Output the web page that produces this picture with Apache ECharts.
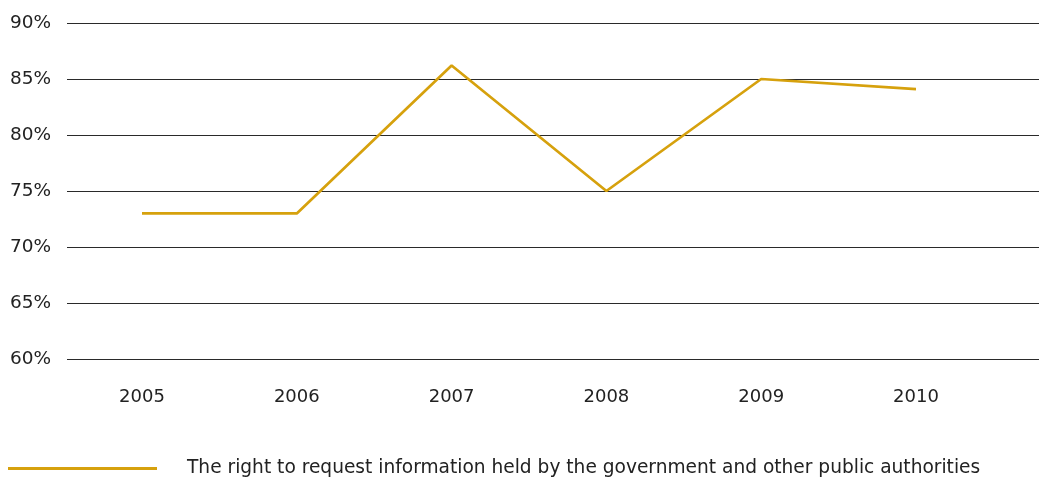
<!DOCTYPE html>
<html>
<head>
<meta charset="utf-8">
<script src="https://cdn.jsdelivr.net/npm/echarts@6/dist/echarts.min.js"></script>
<style>html,body{margin:0;padding:0;background:#fff}#c{width:1039px;height:483px}</style>
</head>
<body>
<div id="c"></div>
<script>
const categories = ['2005', '2006', '2007', '2008', '2009', '2010'];
const seriesName = 'The right to request information held by the government and other public authorities';
const values = [73.0, 73.0, 86.2, 75.0, 85.0, 84.1];
const yMin = 60, yMax = 90, yStep = 5;

const chart = echarts.init(document.getElementById('c'));
const font = "'DejaVu Sans', Verdana, sans-serif";
chart.setOption({
  animation: false,
  grid: [
    { left: 67, right: 0, top: 23, bottom: 124 },
    { left: 64.6, right: 45.6, top: 23, bottom: 124 }
  ],
  xAxis: [
    { gridIndex: 0, type: 'value', show: false, min: 0, max: 1 },
    {
      gridIndex: 1, type: 'category', data: categories, boundaryGap: true,
      axisLine: { show: false }, axisTick: { show: false },
      axisLabel: { margin: 29, fontSize: 18, color: '#222', fontFamily: font }
    }
  ],
  yAxis: [
    {
      gridIndex: 0, type: 'value', min: yMin, max: yMax, interval: yStep,
      axisLine: { show: false }, axisTick: { show: false },
      axisLabel: { margin: 16, fontSize: 18.5, color: '#222', fontFamily: font, formatter: '{value}%' },
      splitLine: { lineStyle: { color: '#2a2a2a', width: 1.2 } }
    },
    { gridIndex: 1, type: 'value', min: yMin, max: yMax, interval: yStep, show: false, splitLine: { show: false } }
  ],
  legend: {
    left: 8, top: 459, padding: 0, icon: 'rect', itemWidth: 149, itemHeight: 3,
    textStyle: { fontSize: 18.6, color: '#222', fontFamily: font, padding: [0, 0, 0, 25] },
    data: [seriesName]
  },
  series: [{
    name: seriesName, type: 'line', xAxisIndex: 1, yAxisIndex: 1,
    data: values, symbol: 'none', color: '#d6a10d',
    lineStyle: { width: 2.7, color: '#d6a10d' }
  }]
});
</script>
</body>
</html>
